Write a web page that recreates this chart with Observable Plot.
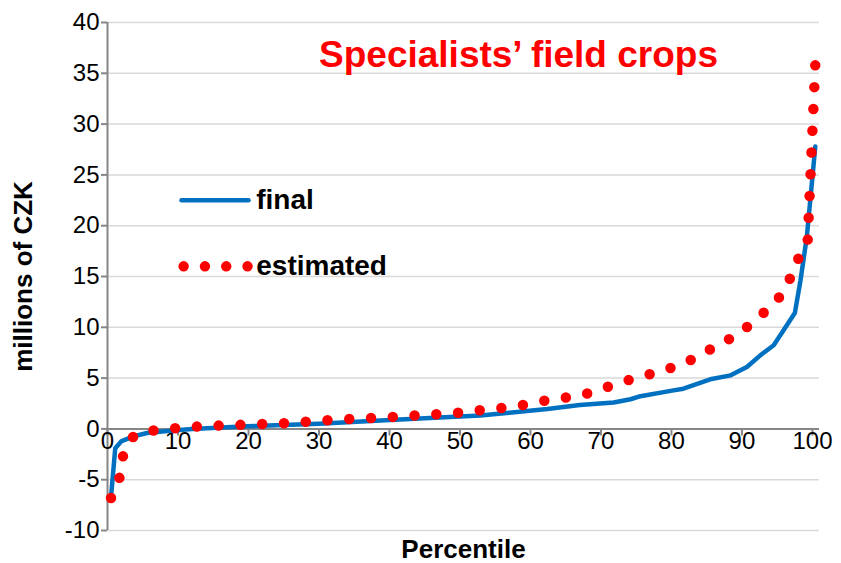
<!DOCTYPE html>
<html>
<head>
<meta charset="utf-8">
<script src="https://cdn.jsdelivr.net/npm/d3@7"></script>
<script src="https://cdn.jsdelivr.net/npm/@observablehq/plot@0.6"></script>
<style>
  html, body { margin: 0; padding: 0; background: #fff; }
  #chart { width: 841px; height: 563px; }
</style>
</head>
<body>
<div id="chart"></div>
<script>
// ---- data ----
const finalX = [0.5, 1.1, 2.0, 3.7, 5.6, 8.5, 12, 19.8, 26, 30, 38.7, 45, 52.9, 57, 62.4, 67, 71.8, 74.2, 75.6, 80.3, 81.7, 85.5, 88.4, 90.7, 92.6, 94.5, 95.9, 97.5, 98.3, 99.2, 100.0, 100.4];
const finalY = [-6.7, -1.9, -1.2, -0.74, -0.4, -0.2, 0.0, 0.25, 0.4, 0.5, 0.83, 1.05, 1.33, 1.6, 1.95, 2.35, 2.6, 2.92, 3.22, 3.79, 3.96, 4.88, 5.27, 6.09, 7.24, 8.23, 9.7, 11.4, 14.6, 18.9, 24.8, 27.8];

const estX = [0.5, 1.7, 2.2, 3.7, 6.8, 9.9, 13.1, 16.3, 19.4, 22.7, 25.7, 28.9, 32.1, 35.3, 38.5, 41.7, 44.8, 48.0, 51.2, 54.3, 57.4, 60.6, 63.7, 66.9, 69.8, 72.9, 75.9, 79.0, 81.9, 84.7, 87.5, 90.1, 92.5, 94.8, 96.5, 97.6, 99.3, 100.4];
const estY = [-6.8, -4.8, -2.7, -0.7, -0.1, 0.08, 0.25, 0.34, 0.41, 0.5, 0.57, 0.74, 0.9, 1.0, 1.1, 1.23, 1.39, 1.49, 1.69, 1.98, 2.14, 2.6, 3.0, 3.22, 3.88, 4.6, 5.19, 5.8, 6.47, 7.54, 8.55, 9.67, 11.08, 12.46, 14.24, 16.3, 18.2, 35.8];

const xTicks = [0, 10, 20, 30, 40, 50, 60, 70, 80, 90, 100];
const yTicks = [-10, -5, 0, 5, 10, 15, 20, 25, 30, 35, 40];
const seriesNames = ["final", "estimated"];
const titleText = "Specialists\u2019 field crops";
const xLabel = "Percentile";
const yLabel = "millions of CZK";

// legend sample positions (data units)
const legendFinal = [{x: 10.5, y: 22.5}, {x: 20.0, y: 22.5}];
const legendEst = [{x: 10.8, y: 16.0}, {x: 19.9, y: 16.0}];

const finalData = finalX.map((x, i) => ({x, y: finalY[i]}));
const estData = estX.map((x, i) => ({x, y: estY[i]}));

const FONT = "'Liberation Sans', Arial, sans-serif";
const BLUE = "#0070C0";
const RED = "#FF0000";
const AXIS = "#868686";
const GRID = "#D9D9D9";

const chart = Plot.plot({
  width: 841,
  height: 563,
  marginLeft: 107,
  marginRight: 22,
  marginTop: 22,
  marginBottom: 33,
  style: {fontFamily: FONT, background: "#fff", overflow: "visible"},
  x: {domain: [0, 101], axis: null},
  y: {domain: [-10, 40], axis: null},
  marks: [
    // gridlines
    Plot.ruleY(yTicks, {x1: 0, x2: 101, stroke: GRID, strokeWidth: 1.5}),
    // y axis
    Plot.axisY({ticks: yTicks, tickSize: 6, tickPadding: 2, fontSize: 24, stroke: AXIS, strokeWidth: 2, label: null, fill: "#000", tickFormat: d => String(d)}),
    Plot.ruleX([0], {y1: -10, y2: 40, stroke: AXIS, strokeWidth: 2}),
    // x axis at zero
    Plot.ruleY([0], {x1: 0, x2: 101, stroke: AXIS, strokeWidth: 2}),
    Plot.ruleX(xTicks, {x: d => d, y1: 0, y2: -0.7, stroke: AXIS, strokeWidth: 2}),
    Plot.text(xTicks, {x: d => d, y: 0, text: d => String(d), dy: 12, lineAnchor: "middle", fontSize: 24, fill: "#000"}),
    // series
    Plot.line(finalData, {x: "x", y: "y", stroke: BLUE, strokeWidth: 4.5, strokeLinejoin: "round"}),
    Plot.line(estData, {x: "x", y: "y", stroke: RED, strokeWidth: 10.5, strokeLinecap: "round", strokeDasharray: "0 22", className: "est-dots"}),
    // legend
    Plot.line(legendFinal, {x: "x", y: "y", stroke: BLUE, strokeWidth: 4.5, strokeLinecap: "round"}),
    Plot.line(legendEst, {x: "x", y: "y", stroke: RED, strokeWidth: 10.5, strokeLinecap: "round", strokeDasharray: "0 21.3"}),
    Plot.text([seriesNames[0]], {x: 21.1, y: 22.5, text: d => d, textAnchor: "start", fontSize: 28, fontWeight: "bold", fill: "#000"}),
    Plot.text([seriesNames[1]], {x: 21.1, y: 16.0, text: d => d, textAnchor: "start", fontSize: 28, fontWeight: "bold", fill: "#000"}),
    // title
    Plot.text([titleText], {frameAnchor: "top-left", dx: 411, dy: 33, textAnchor: "middle", lineAnchor: "middle", text: d => d, fontSize: 37, fontWeight: "bold", fill: RED}),
    // axis titles
    Plot.text([yLabel], {frameAnchor: "left", dx: -84, rotate: -90, textAnchor: "middle", lineAnchor: "middle", text: d => d, fontSize: 26, fontWeight: "bold", fill: "#000"}),
    Plot.text([xLabel], {frameAnchor: "bottom", dy: 19, textAnchor: "middle", lineAnchor: "middle", text: d => d, fontSize: 26, fontWeight: "bold", fill: "#000"})
  ]
});
document.getElementById("chart").appendChild(chart);

// space the round dots evenly so that one dot sits at each end of the path
const estPath = chart.querySelector(".est-dots path");
if (estPath && estPath.getTotalLength) {
  const len = estPath.getTotalLength();
  const n = Math.max(1, Math.round(len / 22));
  estPath.setAttribute("stroke-dasharray", `0 ${(len - 0.2) / n}`);
}
</script>
</body>
</html>
